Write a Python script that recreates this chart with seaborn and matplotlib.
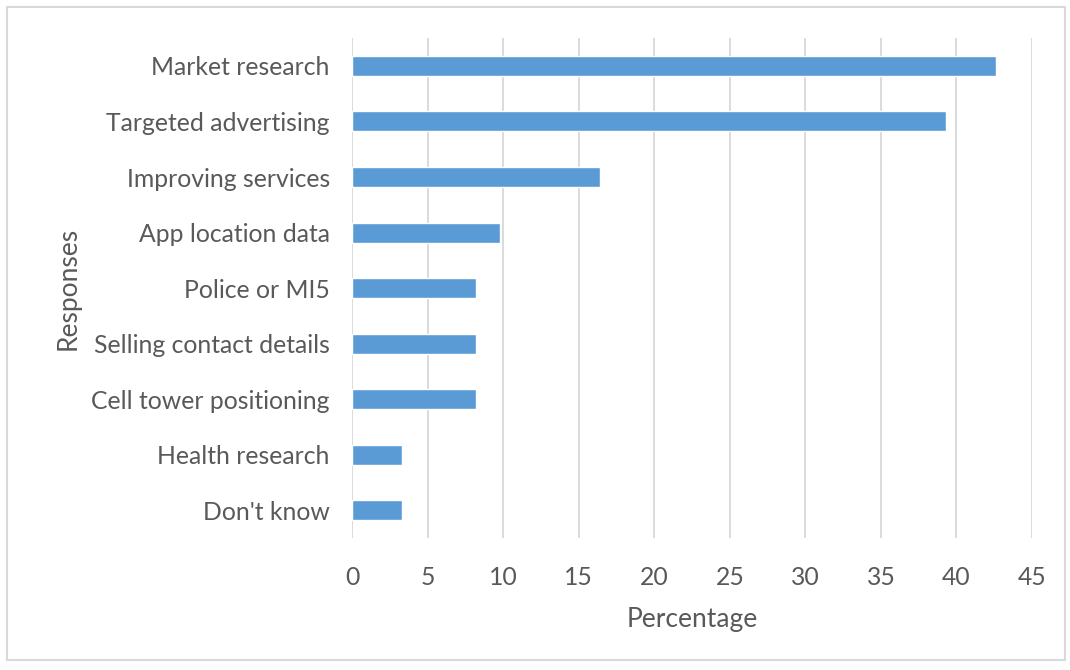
import pandas as pd
import matplotlib.pyplot as plt
import seaborn as sns
from matplotlib.patches import Rectangle

# === Data ===
responses = [
    "Market research",
    "Targeted advertising",
    "Improving services",
    "App location data",
    "Police or MI5",
    "Selling contact details",
    "Cell tower positioning",
    "Health research",
    "Don't know",
]
percentages = [42.6, 39.3, 16.4, 9.8, 8.2, 8.2, 8.2, 3.3, 3.3]

df = pd.DataFrame({"response": responses, "percentage": percentages})

# === Plot ===
sns.set_theme(style="white")
plt.rcParams["font.family"] = ["Lato", "DejaVu Sans"]
text_col = "#595959"

fig = plt.figure(figsize=(10.7, 6.7), dpi=100)
ax = fig.add_axes([0.329, 0.197, 0.6355, 0.746])

sns.barplot(data=df, x="percentage", y="response", color="#5B9BD5",
            saturation=1, width=0.36, ax=ax, zorder=3)

ax.set_xlim(0, 45)
ax.set_xticks(range(0, 46, 5))
ax.grid(axis="x", color="#D4D4D4", linewidth=1.2, zorder=0)
ax.grid(axis="y", visible=False)
for s in ax.spines.values():
    s.set_visible(False)

ax.tick_params(axis="both", length=0, labelsize=17.8, labelcolor=text_col)
ax.tick_params(axis="x", pad=20)
ax.tick_params(axis="y", pad=16)
ax.set_xlabel("Percentage", fontsize=19, color=text_col, labelpad=13)
ax.set_ylabel("Responses", fontsize=19, color=text_col, labelpad=8)

# light border around the chart area
fig.patches.append(Rectangle((0.007, 0.015), 0.988, 0.975, transform=fig.transFigure,
                             fill=False, edgecolor="#D9D9D9", linewidth=1.5))

fig.savefig("out.png", dpi=100)
